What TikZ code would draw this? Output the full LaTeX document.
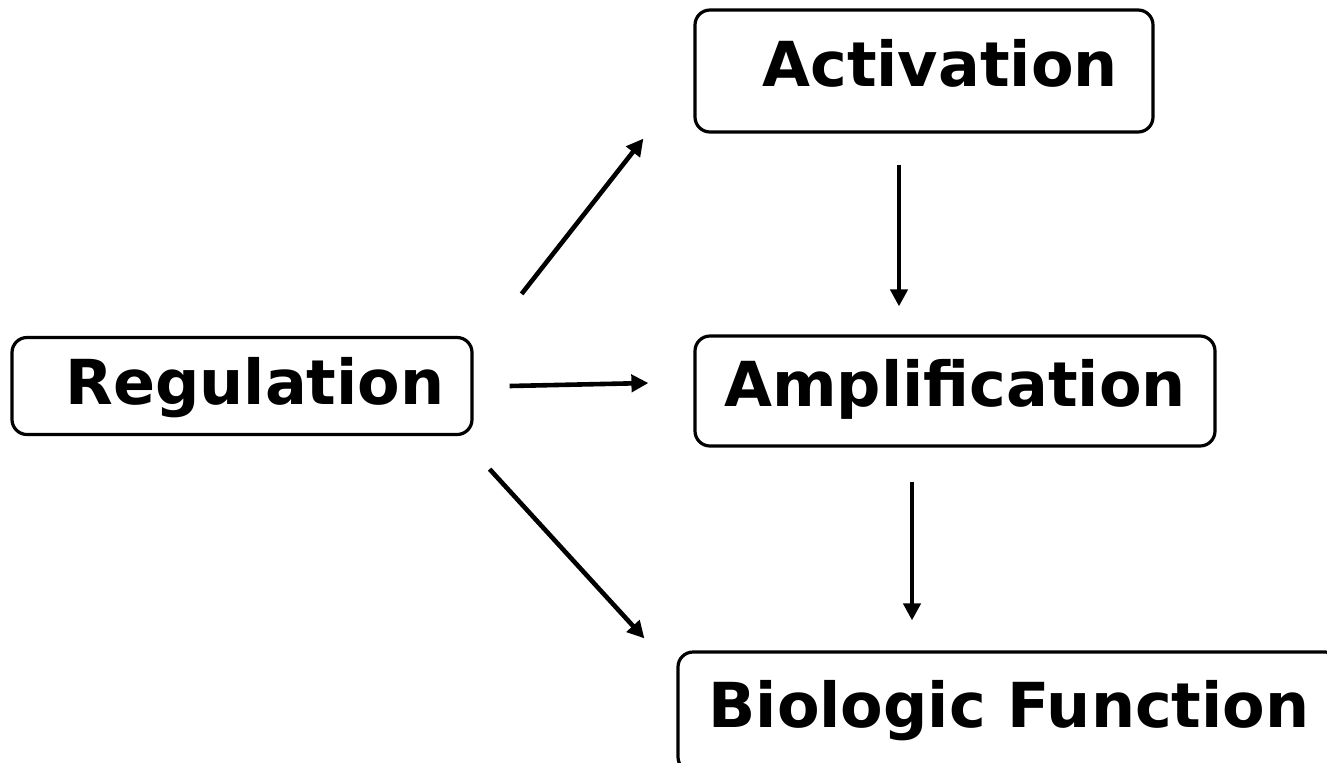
\documentclass[tikz,border=0pt]{standalone}
\usepackage{fontspec}
\setmainfont{DejaVu Sans}
\usetikzlibrary{arrows.meta,calc}

\tikzset{
  stage/.style={draw, line width=1.6pt, rounded corners=7.5pt, font=\fontsize{31}{37}\selectfont\bfseries,
    text height=23pt, text depth=8pt},
  arr/.style={line width=2.3pt, -{Triangle[length=8.5pt,width=8.5pt]}}
}

\begin{document}
\begin{tikzpicture}[x=0.5pt, y=-0.5pt]
  \useasboundingbox (0,0) rectangle (1327,762);
  % stages
  \node[stage, minimum width=230pt, minimum height=48.5pt, text depth=5pt] (reg) at (242,386) {\hspace{13pt}Regulation};
  \node[stage, minimum width=229pt, minimum height=61pt] (act) at (924,71) {\hspace{16pt}Activation};
  \node[stage, minimum width=260pt, minimum height=55pt] (amp) at (955,391) {Amplification};
  \node[stage, minimum width=331pt, minimum height=60pt] (bio) at (1009,712) {Biologic Function};
  % arrows
  \draw[arr] ($(reg.north east)+(48,-42)$) -- ($(act.south west)+(-50,5)$);
  \draw[arr] ($(reg.east)+(36,0)$) -- ($(amp.west)+(-45,-8)$);
  \draw[arr] ($(reg.south east)+(16,33)$) -- ($(bio.north west)+(-32,-12)$);
  \draw[arr] ($(act.south)+(-25,31)$) -- ($(amp.north)+(-56,-28)$);
  \draw[arr] ($(amp.south)+(-43,34)$) -- ($(bio.north)+(-97,-30)$);
\end{tikzpicture}
\end{document}
